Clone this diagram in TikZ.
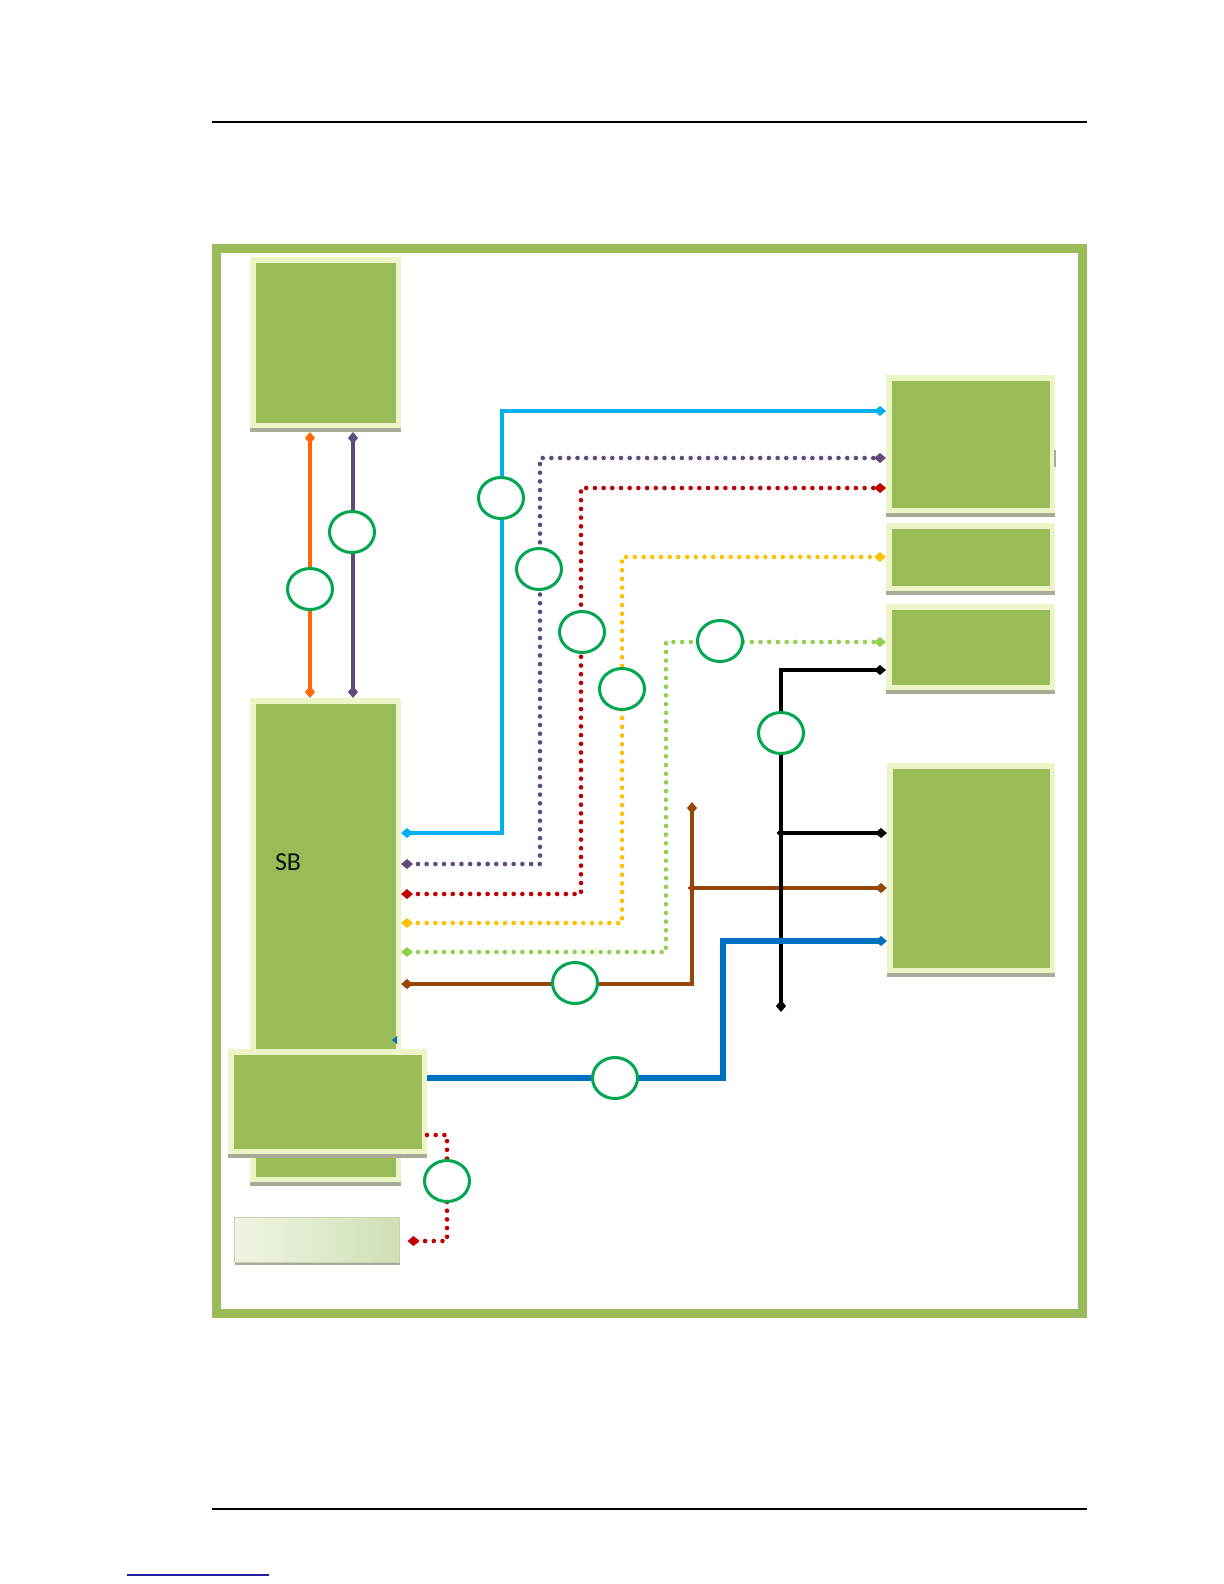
\documentclass[tikz,border=0pt]{standalone}
\usepackage{fontspec}
\setmainfont{Carlito}
\usetikzlibrary{arrows.meta,shapes.geometric,fit,shadows}

\definecolor{boxgreen}{HTML}{9BBB59}
\definecolor{boxedge}{HTML}{EBF5C6}
\definecolor{boxshade}{HTML}{A8AB98}
\definecolor{ringgreen}{HTML}{00A650}
\definecolor{lnorange}{HTML}{FF6A00}
\definecolor{lnpurple}{HTML}{604A7B}
\definecolor{lncyan}{HTML}{00B0F0}
\definecolor{lnred}{HTML}{C00000}
\definecolor{lnyellow}{HTML}{FFC000}
\definecolor{lnlime}{HTML}{92D050}
\definecolor{lnbrown}{HTML}{974806}
\definecolor{lnblue}{HTML}{0070C0}
\definecolor{palel}{HTML}{EFF5E4}
\definecolor{paler}{HTML}{D0E0B6}
\definecolor{linkblue}{HTML}{2020A0}

\tikzset{
  blkbox/.style={fill=boxgreen, draw=boxedge, line width=2.75bp, inner sep=0pt,
    general shadow={fill=boxshade, draw=boxshade, shadow yshift=-1.75bp}},
  palebox/.style={left color=palel, right color=paler, draw=boxedge!50!boxshade,
    line width=0.5bp, inner sep=0pt,
    general shadow={fill=boxshade, shadow yshift=-1.5bp, shadow xshift=0.5bp}},
  ring/.style={ellipse, draw=ringgreen, fill=white, line width=1.5bp, inner sep=0pt,
    minimum width=22.5bp, minimum height=20.5bp},
  wire/.style={line width=2bp},
  dotwire/.style={line width=2.3bp, line cap=round, dash pattern=on 0bp off 4.35bp},
  joint/.style={diamond, inner sep=0pt, minimum size=4.5bp},
}

\begin{document}
\begin{tikzpicture}[x=0.5bp, y=-0.5bp, >={Diamond[length=6bp,width=5bp]}]
  \useasboundingbox (0,0) rectangle (1224,1584);

  % page rules
  \draw[line width=0.6bp] (212,122) -- (1087,122);
  \draw[line width=0.6bp] (212,1509) -- (1087,1509);
  \draw[linkblue, line width=0.6bp] (127,1575) -- (269,1575);

  % board outline
  \node[draw=boxgreen, line width=4.5bp, inner sep=0pt,
        fit={(216,248.5) (1082,1313.5)}] (board) {};

  % blocks
  \node[blkbox, fit={(252.75,259.75) (398.25,425.25)}] (cpu) {};
  \node[blkbox, fit={(252.75,700.75) (398.25,1179.25)}] (sb) {};
  \node[blkbox, fit={(230.75,1051.75) (424.25,1151.25)}] (io) {};
  \node[palebox, fit={(234,1217) (399,1262)}] (pale) {};
  \node[blkbox, fit={(888.75,377.75) (1052.25,510.25)}] (r1) {};
  \node[blkbox, fit={(888.75,525.75) (1052.25,588.25)}] (r2) {};
  \node[blkbox, fit={(888.75,606.75) (1052.25,687.25)}] (r3) {};
  \node[blkbox, fit={(889.75,765.75) (1052.25,970.25)}] (r4) {};
  \draw[boxshade, line width=1bp] (1055,450) -- (1055,467);
  \fill[lnblue] (392,1040) -- (397,1036) -- (397,1044) -- cycle;

  % cpu to south bridge
  \draw[wire, lnorange, <->, shorten <=2bp] (cpu.south -| 310,0) -- (sb.north -| 310,0);
  \draw[wire, lnpurple, <->, shorten <=2bp] (cpu.south -| 353,0) -- (sb.north -| 353,0);

  % south bridge to the right side
  \draw[wire, lncyan, <->] (sb.east |- 0,833) -| (502,411) -- (r1.west |- 0,411);
  \draw[dotwire, lnpurple, <->] (sb.east |- 0,864) -| (540,458) -- (r1.west |- 0,458);
  \draw[dotwire, lnred, <->] (sb.east |- 0,894) -| (581,488) -- (r1.west |- 0,488);
  \draw[dotwire, lnyellow, <->] (sb.east |- 0,923) -| (622,557) -- (r2.west |- 0,557);
  \draw[dotwire, lnlime, <->] (sb.east |- 0,952) -| (666,642) -- (r3.west |- 0,642);

  % brown bus
  \node[joint, fill=lnbrown] (bj) at (692,888) {};
  \draw[wire, lnbrown, line width=2.25bp, <->] (sb.east |- 0,984) -| (692,802);
  \draw[wire, lnbrown, line width=2.25bp, ->] (bj.center) -- (r4.west |- bj);

  % black bus
  \node[joint, fill=black] (kj) at (781,833) {};
  \draw[wire, black, <->] (r3.west |- 0,670) -| (781,1012);
  \draw[wire, black, ->] (kj.center) -- (r4.west |- kj);

  % blue bus
  \draw[wire, lnblue, line width=2.9bp, ->] (io.east |- 0,1078) -| (723,941) -- (r4.west |- 0,941);

  % io to pale block
  \draw[dotwire, lnred, ->, shorten >=4bp] (io.east |- 0,1135) -| (447,1241) -- (pale.east |- 0,1241);

  % rings
  \node[ring] (korange) at (310,589) {};
  \node[ring] (kpurple) at (352,532) {};
  \node[ring] (kcyan) at (501,498) {};
  \node[ring] (kpdot) at (539,569) {};
  \node[ring] (krdot) at (582,632) {};
  \node[ring] (kydot) at (622,689) {};
  \node[ring] (kgdot) at (720,641) {};
  \node[ring] (kblack) at (781,733) {};
  \node[ring] (kbrown) at (575,983) {};
  \node[ring] (kblue) at (615,1078) {};
  \node[ring] (kpale) at (447,1181) {};

  \node[anchor=base west, font=\fontsize{13}{15}\selectfont, text=black!85!green!60!black] (sbname) at (268,870) {SB};
\end{tikzpicture}
\end{document}
